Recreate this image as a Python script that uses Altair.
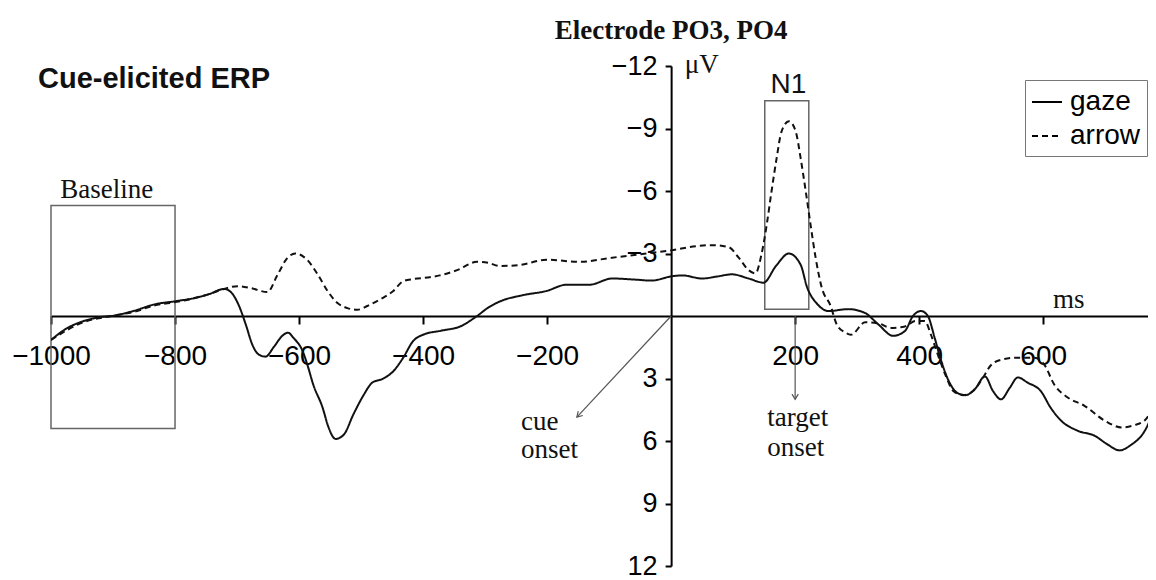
import altair as alt
import pandas as pd

# ---------------- data ----------------
gaze_ms = [-1000, -975, -948, -920, -903, -866, -834, -797, -770, -745, -721, -710, -697, -686,
           -675, -665, -654, -641, -627, -618, -609, -594, -587, -577, -562, -553, -541, -528,
           -512, -496, -482, -464, -448, -432, -416, -400, -370, -340, -313, -295, -276, -239,
           -201, -169, -132, -95, -60, -31, 0, 18, 50, 75, 98, 125, 149, 169, 190, 209, 219,
           235, 254, 286, 313, 334, 358, 377, 390, 403, 414, 425, 435, 449, 462, 475, 490, 506,
           519, 532, 546, 559, 575, 596, 612, 628, 655, 683, 703, 723, 741, 764, 778]
gaze_uv = [1.15, 0.6, 0.25, 0.05, 0.0, -0.25, -0.55, -0.72, -0.85, -1.05, -1.3, -1.15, -0.5, 0.4,
           1.4, 1.85, 1.95, 1.5, 0.95, 0.8, 1.05, 1.7, 2.3, 3.3, 4.4, 5.3, 5.9, 5.7,
           4.7, 3.8, 3.2, 3.0, 2.65, 2.0, 1.2, 0.9, 0.7, 0.5, 0.0, -0.4, -0.7, -1.0,
           -1.2, -1.5, -1.5, -1.8, -1.75, -1.7, -1.9, -1.95, -1.8, -1.9, -2.0, -1.8, -1.6, -2.4, -3.0, -2.45, -1.4,
           -0.6, -0.24, -0.33, -0.14, 0.4, 0.95, 0.72, 0.0, -0.24, 0.0, 1.05, 2.1, 3.2, 3.7, 3.8, 3.5, 2.9,
           3.6, 4.0, 3.45, 2.95, 3.2, 3.6, 4.4, 5.0, 5.5, 5.75, 6.15, 6.45, 6.2, 5.5, 4.6]

arrow_ms = [-1000, -948, -903, -866, -834, -797, -770, -745, -721, -699, -678, -651, -635, -619,
            -606, -587, -570, -554, -538, -522, -506, -490, -469, -448, -432, -416, -389, -373,
            -345, -313, -295, -276, -244, -201, -148, -95, -40, 0, 40, 66, 93, 109, 125, 136,
            146, 154, 162, 170, 178, 190, 201, 209, 217, 225, 233, 243, 257, 267, 281, 290, 313,
            334, 355, 377, 394, 409, 419, 430, 442, 455, 471, 487, 500, 516, 532, 559, 586, 602,
            618, 639, 666, 698, 727, 746, 764, 778]
arrow_uv = [1.15, 0.3, 0.0, -0.2, -0.5, -0.68, -0.85, -1.05, -1.3, -1.43, -1.34, -1.15, -1.96, -2.78,
            -3.0, -2.7, -2.0, -1.2, -0.62, -0.38, -0.3, -0.48, -0.8, -1.2, -1.67, -1.77, -1.86, -1.95,
            -2.2, -2.6, -2.55, -2.4, -2.45, -2.7, -2.6, -2.8, -3.0, -3.15, -3.35, -3.4, -3.3, -2.8, -2.2, -2.05,
            -3.0, -4.35, -6.0, -7.55, -8.85, -9.35, -8.85, -7.55, -6.0, -4.35, -2.8, -1.35, -0.5, 0.4, 0.8, 0.9, 0.3,
            0.35, 0.57, 0.5, 0.24, 0.24, 0.9, 1.85, 2.8, 3.6, 3.8, 3.6, 3.1, 2.35, 2.1, 2.0, 2.0, 2.35,
            3.3, 3.9, 4.3, 5.0, 5.35, 5.25, 5.0, 4.4]

series_names = ["gaze", "arrow"]
x_ticks = [-1000, -800, -600, -400, -200, 200, 400, 600]
y_ticks = [-12, -9, -6, -3, 3, 6, 9, 12]
x_domain = [-1000, 769]
y_domain = [-12, 12]

# boxes: Baseline and N1 windows
box_x1 = [-1000, 151]
box_x2 = [-800, 222]
box_y1 = [-5.3, -10.33]
box_y2 = [5.4, -0.33]

# arrows: cue onset and target onset
arr_x1 = [0, 200]
arr_y1 = [0, 0]
arr_x2 = [-152, 200]
arr_y2 = [4.85, 4.0]
arr_angle = [44, 0]

# annotations
serif_text = ["\u03bcV", "Baseline", "ms", "cue", "onset", "target", "onset"]
serif_x = [22, -985, 616, -242, -242, 155, 155]
serif_y = [-12.05, -6.05, -0.77, 5.09, 6.43, 4.9, 6.34]

# ---------------- layout ----------------
W, H = 1097, 500
y_axis_offset = -W * (0 - x_domain[0]) / (x_domain[1] - x_domain[0])
x_axis_offset = -H * (y_domain[1] - 0) / (y_domain[1] - y_domain[0])

SANS = "Liberation Sans"
SERIF = "Liberation Serif"

xscale = alt.Scale(domain=x_domain, nice=False, zero=False)
yscale = alt.Scale(domain=y_domain, reverse=True, nice=False, zero=False)

xax = alt.Axis(values=x_ticks, offset=x_axis_offset, title=None, grid=False, format="d",
               domainColor="black", domainWidth=2, tickColor="black", tickWidth=2, tickSize=8,
               labelFont=SANS, labelFontSize=28, labelColor="black", labelPadding=32,
               labelBaseline="middle", labelFlush=False, labelOverlap=False, labelBound=False)
yax = alt.Axis(values=y_ticks, offset=y_axis_offset, title=None, grid=False, format="d",
               domainColor="black", domainWidth=2, tickColor="black", tickWidth=2, tickSize=6,
               labelFont=SANS, labelFontSize=27, labelColor="black", labelPadding=8,
               labelFlush=False, labelOverlap=False, labelBound=False)

df_lines = pd.concat([
    pd.DataFrame({"ms": gaze_ms, "uv": gaze_uv, "series": series_names[0]}),
    pd.DataFrame({"ms": arrow_ms, "uv": arrow_uv, "series": series_names[1]}),
])

lines = alt.Chart(df_lines).mark_line(interpolate="monotone", clip=True, color="#111",
                                      strokeWidth=2).encode(
    x=alt.X("ms:Q", scale=xscale, axis=xax),
    y=alt.Y("uv:Q", scale=yscale, axis=yax),
    strokeDash=alt.StrokeDash("series:N",
                              scale=alt.Scale(domain=series_names, range=[[1, 0], [6, 4]]),
                              legend=alt.Legend(title=None)),
    detail="series:N",
)

df_box = pd.DataFrame({"x1": box_x1, "x2": box_x2, "y1": box_y1, "y2": box_y2})
boxes = alt.Chart(df_box).mark_rect(fill=None, stroke="#666", strokeWidth=1.5).encode(
    x=alt.X("x1:Q", scale=xscale, axis=xax), x2="x2:Q",
    y=alt.Y("y1:Q", scale=yscale, axis=yax), y2="y2:Q",
)

df_arr = pd.DataFrame({"x1": arr_x1, "y1": arr_y1, "x2": arr_x2, "y2": arr_y2, "ang": arr_angle})
arrows = alt.Chart(df_arr).mark_rule(color="#555", strokeWidth=1.2).encode(
    x=alt.X("x1:Q", scale=xscale, axis=xax), x2="x2:Q",
    y=alt.Y("y1:Q", scale=yscale, axis=yax), y2="y2:Q",
)
heads = alt.Chart(df_arr).mark_point(shape="M-0.6,-1L0,0L0.6,-1", filled=False, color="#555",
                                     strokeWidth=1.2, size=110, opacity=1).encode(
    x=alt.X("x2:Q", scale=xscale, axis=xax),
    y=alt.Y("y2:Q", scale=yscale, axis=yax),
    angle=alt.Angle("ang:Q", scale=None),
)

df_serif = pd.DataFrame({"t": serif_text, "x": serif_x, "y": serif_y})
serif_lbl = alt.Chart(df_serif).mark_text(font=SERIF, fontSize=27, align="left",
                                          baseline="middle", color="#111").encode(
    x=alt.X("x:Q", scale=xscale, axis=xax),
    y=alt.Y("y:Q", scale=yscale, axis=yax),
    text="t:N",
)

df_title = pd.DataFrame({"t": ["Electrode PO3, PO4"], "x": [0], "y": [-13.7]})
title_lbl = alt.Chart(df_title).mark_text(font=SERIF, fontSize=27, fontWeight="bold",
                                          align="center", baseline="middle", color="#111").encode(
    x=alt.X("x:Q", scale=xscale, axis=xax),
    y=alt.Y("y:Q", scale=yscale, axis=yax),
    text="t:N",
)

df_cue = pd.DataFrame({"t": ["Cue-elicited ERP"], "x": [-1021], "y": [-11.4]})
cue_lbl = alt.Chart(df_cue).mark_text(font=SANS, fontSize=29, fontWeight="bold",
                                      align="left", baseline="middle", color="#111").encode(
    x=alt.X("x:Q", scale=xscale, axis=xax),
    y=alt.Y("y:Q", scale=yscale, axis=yax),
    text="t:N",
)

df_n1 = pd.DataFrame({"t": ["N1"], "x": [189], "y": [-11.09]})
n1_lbl = alt.Chart(df_n1).mark_text(font=SANS, fontSize=28, align="center",
                                    baseline="middle", color="#111").encode(
    x=alt.X("x:Q", scale=xscale, axis=xax),
    y=alt.Y("y:Q", scale=yscale, axis=yax),
    text="t:N",
)

chart = alt.layer(boxes, arrows, heads, lines, serif_lbl, title_lbl, cue_lbl, n1_lbl).properties(
    width=W, height=H,
    autosize=alt.AutoSizeParams(type="none"),
    padding={"left": 43, "top": 58, "right": 0, "bottom": 14},
    background="white",
).configure_view(stroke=None).configure_legend(
    orient="none", legendX=974, legendY=14,
    strokeColor="#777", fillColor="white", padding=6,
    labelFont=SANS, labelFontSize=28, labelColor="black", labelOffset=7,
    symbolType="stroke", symbolSize=900, symbolStrokeWidth=2, symbolStrokeColor="black",
    rowPadding=4,
)

chart.save("out.html", embed_options={"renderer": "svg", "actions": False})
